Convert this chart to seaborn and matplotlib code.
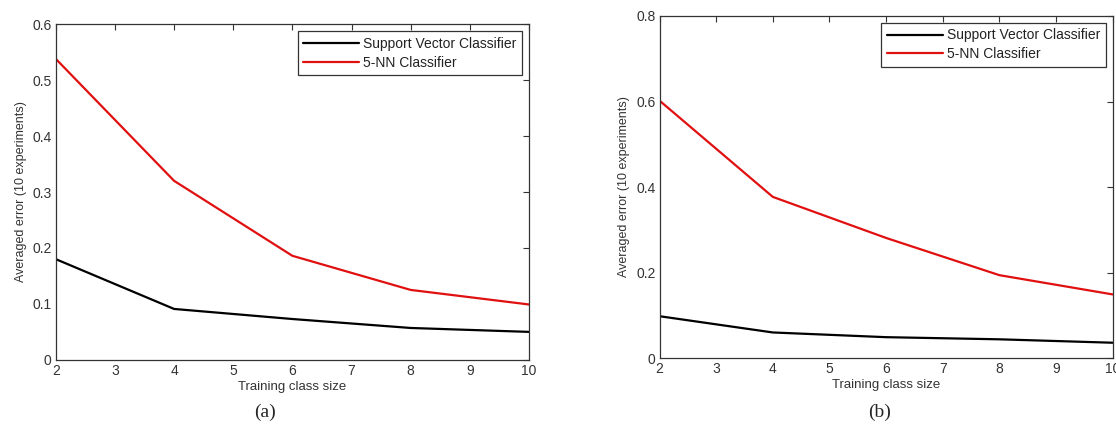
import pandas as pd
import numpy as np
import matplotlib.pyplot as plt
import seaborn as sns
from matplotlib.ticker import FuncFormatter

# Training class sizes
sizes = [2, 4, 6, 8, 10]

# Panel (a) averaged errors
svc_a = [0.180, 0.091, 0.073, 0.057, 0.050]
knn_a = [0.538, 0.320, 0.186, 0.125, 0.099]

# Panel (b) averaged errors
svc_b = [0.098, 0.060, 0.049, 0.044, 0.036]
knn_b = [0.602, 0.377, 0.281, 0.194, 0.149]

series_names = ["Support Vector Classifier", "5-NN Classifier"]

sns.set_style("white")
plt.rcParams['font.family'] = ['Liberation Sans', 'DejaVu Sans']

fig = plt.figure(figsize=(11.16, 4.32), dpi=100)
ax_a = fig.add_axes([0.050, 0.167, 0.424, 0.777])
ax_b = fig.add_axes([0.591, 0.171, 0.406, 0.792])

palette = {series_names[0]: "black", series_names[1]: "#e01010"}


def make_frame(svc, knn):
    return pd.DataFrame({
        "size": sizes * 2,
        "error": svc + knn,
        "clf": [series_names[0]] * len(sizes) + [series_names[1]] * len(sizes),
    })


def style_axes(ax, ymax, ystep):
    ax.set_xlim(2, 10)
    ax.set_ylim(0, ymax)
    ax.set_xticks(range(2, 11))
    ax.set_yticks(np.arange(0, ymax + 1e-9, ystep))
    ax.yaxis.set_major_formatter(FuncFormatter(lambda v, p: "%g" % round(v, 2)))
    ax.tick_params(direction="in", top=True, right=True, length=4, width=0.8,
                   labelsize=10, colors="#333333", pad=3)
    for s in ax.spines.values():
        s.set_color("#333333")
        s.set_linewidth(0.9)
    ax.set_xlabel("Training class size", fontsize=9.5, color="#333333", labelpad=2)
    ax.set_ylabel("Averaged error (10 experiments)", fontsize=9, color="#333333", labelpad=4)
    leg = ax.legend(loc="upper right", fontsize=10, handlelength=4.0, handletextpad=0.3,
                    borderaxespad=0.5, fancybox=False, framealpha=1, borderpad=0.4,
                    labelspacing=0.35)
    leg.get_frame().set_edgecolor("#333333")
    leg.get_frame().set_linewidth(0.9)
    for t in leg.get_texts():
        t.set_color("#222222")


sns.lineplot(data=make_frame(svc_a, knn_a), x="size", y="error", hue="clf",
             palette=palette, linewidth=1.6, ax=ax_a)
style_axes(ax_a, 0.6, 0.1)

sns.lineplot(data=make_frame(svc_b, knn_b), x="size", y="error", hue="clf",
             palette=palette, linewidth=1.6, ax=ax_b)
style_axes(ax_b, 0.8, 0.2)

fig.text(265 / 1116, 1 - 412 / 432, "(a)", fontsize=14, family="Liberation Serif",
         ha="center", va="center")
fig.text(880 / 1116, 1 - 412 / 432, "(b)", fontsize=14, family="Liberation Serif",
         ha="center", va="center")

fig.savefig("out.png", dpi=100)
